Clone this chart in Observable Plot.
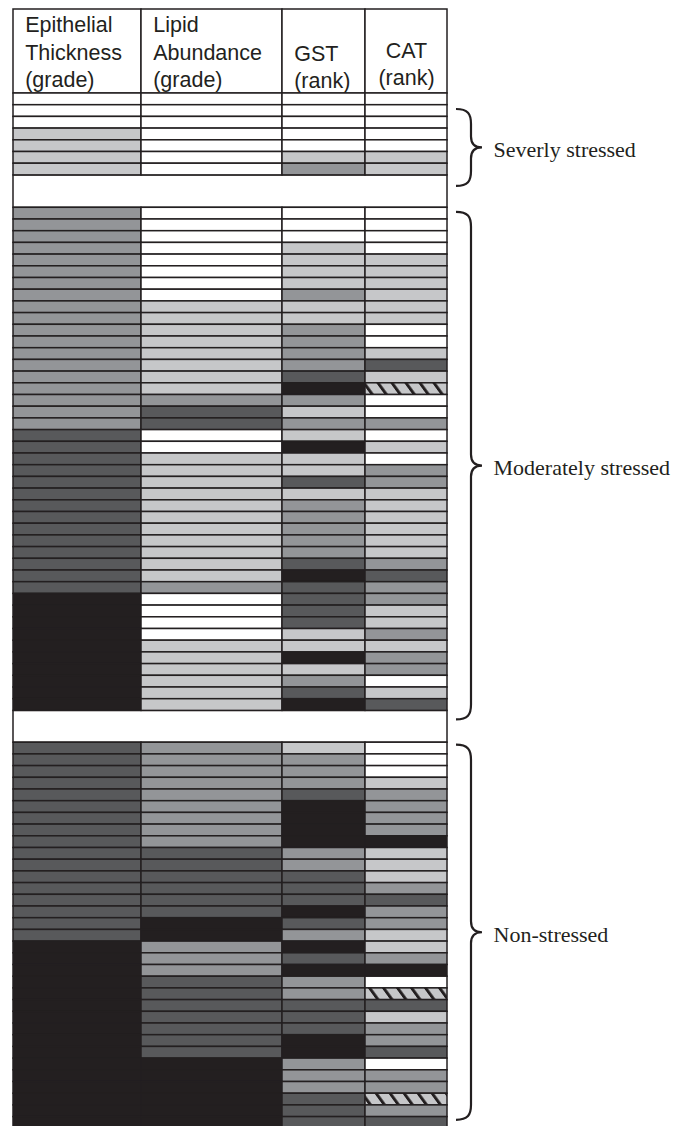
<!DOCTYPE html>
<html>
<head>
<meta charset="utf-8">
<script src="https://cdn.jsdelivr.net/npm/d3@7"></script>
<script src="https://cdn.jsdelivr.net/npm/@observablehq/plot@0.6"></script>
<style>
html, body { margin: 0; padding: 0; background: #fff; overflow: hidden; }
</style>
</head>
<body>
<div id="chart"></div>
<script>
// ---------- DATA ----------
const columns = ["Epithelial Thickness (grade)", "Lipid Abundance (grade)", "GST (rank)", "CAT (rank)"];
const headerLines = [
  ["Epithelial", "Thickness", "(grade)"],
  ["Lipid", "Abundance", "(grade)"],
  ["GST", "(rank)"],
  ["CAT", "(rank)"]
];
const groupNames = ["Severly stressed", "Moderately stressed", "Non-stressed"];
// level codes: 0 white, 1 light grey, 2 mid grey, 3 dark grey, 4 black, 5 hatched
const levelCodes = [0, 1, 2, 3, 4, 5];

const severe = [
  [0,0,0,0],[0,0,0,0],[0,0,0,0],[1,0,0,0],[1,0,0,0],[1,0,1,1],[1,0,2,1]
];
const moderate = [
  [2,0,0,0],[2,0,0,0],[2,0,0,0],[2,0,1,0],[2,0,1,1],[2,0,1,1],[2,0,1,1],[2,0,2,1],
  [2,1,1,1],[2,1,1,1],[2,1,2,0],[2,1,2,0],[2,1,2,1],[2,1,2,3],[2,1,3,1],[2,1,4,5],
  [2,2,2,0],[2,3,1,0],[2,3,2,2],
  [3,0,1,0],[3,0,4,1],[3,1,1,0],[3,1,1,2],[3,1,3,2],[3,1,1,1],[3,1,2,1],[3,1,2,1],
  [3,1,2,1],[3,1,2,1],[3,1,2,1],[3,1,3,2],[3,1,4,3],[3,2,3,2],
  [4,0,3,2],[4,0,3,1],[4,0,3,1],[4,0,1,2],[4,1,1,1],[4,1,4,2],[4,1,1,2],[4,1,2,0],
  [4,1,3,1],[4,1,4,3]
];
const nonStressed = [
  [3,2,1,0],[3,2,2,0],[3,2,2,0],[3,2,2,1],[3,2,3,2],[3,2,4,2],[3,2,4,2],[3,2,4,2],
  [3,2,4,4],[3,3,2,1],[3,3,2,1],[3,3,3,1],[3,3,3,2],[3,3,3,3],[3,3,4,2],[3,4,3,2],
  [3,4,2,1],[4,2,4,1],[4,2,3,2],[4,2,4,4],[4,3,2,0],[4,3,2,5],[4,3,3,3],[4,3,3,1],
  [4,3,3,2],[4,3,4,2],[4,3,4,3],[4,4,2,0],[4,4,2,2],[4,4,2,2],[4,4,3,5],[4,4,3,2],
  [4,4,3,3]
];

// ---------- LAYOUT / STYLE ----------
const W = 689, H = 1126;
const ink = "#231f20";
const levelFills = ["#ffffff", "#c6c7c9", "#939598", "#58595b", "#231f20", "url(#hatch)"];
const colWidths = [128, 141, 83, 82];
const tableLeft = 13, tableTop = 9;
const headerH = 84, rowH = 11.7, gapH = [32.4, 31.8];
const colX = [0];
colWidths.forEach(w => colX.push(colX[colX.length - 1] + w));
const tableW = colX[colX.length - 1];
// brace geometry (relative to table right edge) and per-group vertical offsets
const braceX = {hook: tableW + 9, spine: tableW + 24, tip: tableW + 35, label: tableW + 46};
const braceOffsets = [[16, 11], [4.5, 9], [2.5, -8.5]];
const headerBaseline = [22, 50, 77.3];
const headerDy = [0, 0, 1.5, -2];
const headerAlign = ["start", "start", "start", "middle"];

// ---------- BUILD TABLES ----------
const groups = [severe, moderate, nonStressed];
let cursor = headerH;
const cells = [], gapRects = [], spans = [];
groups.forEach((rows, g) => {
  if (g > 0) {
    gapRects.push({x1: 0, x2: tableW, y1: cursor, y2: cursor + gapH[g - 1]});
    cursor += gapH[g - 1];
  }
  const start = cursor;
  rows.forEach((row, i) => {
    row.forEach((level, c) => {
      cells.push({column: columns[c], x1: colX[c], x2: colX[c + 1],
        y1: start + i * rowH, y2: start + (i + 1) * rowH, level});
    });
  });
  cursor += rows.length * rowH;
  const top = start + braceOffsets[g][0], bottom = cursor + braceOffsets[g][1];
  spans.push({name: groupNames[g], start, end: cursor, top, bottom, tip: (top + bottom) / 2});
});
const tableH = cursor;

const headerCells = columns.map((name, c) => ({x1: colX[c], x2: colX[c + 1], y1: 0, y2: headerH}));
const headerTexts = [];
headerLines.forEach((lines, c) => {
  const offset = 3 - lines.length;
  lines.forEach((t, k) => {
    headerTexts.push({
      text: t,
      align: headerAlign[c],
      x: headerAlign[c] === "middle" ? (colX[c] + colX[c + 1]) / 2 : colX[c] + 11.7,
      y: headerBaseline[k + offset] + headerDy[c]
    });
  });
});

const fsHead = 21.5;

function braceMark(index, scales) {
  const g = d3.create("svg:g");
  for (const s of spans) {
    const x0 = scales.x(braceX.hook), x1 = scales.x(braceX.spine), x2 = scales.x(braceX.tip);
    const yT = scales.y(s.top), yB = scales.y(s.bottom), yM = scales.y(s.tip);
    const r = 15, rt = 11;
    const p = d3.path();
    p.moveTo(x0, yT);
    p.bezierCurveTo(x1 - 3, yT, x1, yT + 5, x1, yT + r);
    p.lineTo(x1, yM - rt);
    p.bezierCurveTo(x1, yM - 4, x1 + 3, yM, x2, yM);
    p.bezierCurveTo(x1 + 3, yM, x1, yM + 4, x1, yM + rt);
    p.lineTo(x1, yB - r);
    p.bezierCurveTo(x1, yB - 5, x1 - 3, yB, x0, yB);
    g.append("path").attr("d", p.toString())
      .attr("fill", "none").attr("stroke", ink).attr("stroke-width", 2.2);
  }
  return g.node();
}

const chart = Plot.plot({
  width: W,
  height: H,
  margin: 0,
  style: {background: "white"},
  x: {type: "linear", domain: [0, tableW], range: [tableLeft, tableLeft + tableW], axis: null},
  y: {type: "linear", domain: [0, tableH], range: [tableTop, tableTop + tableH], axis: null},
  color: {type: "ordinal", domain: levelCodes, range: levelFills},
  marks: [
    Plot.rect(headerCells, {x1: "x1", x2: "x2", y1: "y1", y2: "y2", fill: "white", stroke: ink, strokeWidth: 1.5}),
    Plot.rect(gapRects, {x1: "x1", x2: "x2", y1: "y1", y2: "y2", fill: "white", stroke: ink, strokeWidth: 1.5}),
    Plot.rect(cells, {x1: "x1", x2: "x2", y1: "y1", y2: "y2", fill: "level", stroke: ink, strokeWidth: 1.5}),
    Plot.text(headerTexts.filter(d => d.align === "start"), {
      x: "x", y: d => d.y - 0.71 * fsHead, text: "text", textAnchor: "start", lineAnchor: "top",
      fontFamily: "Liberation Sans, Arial, sans-serif", fontSize: fsHead, fill: ink
    }),
    Plot.text(headerTexts.filter(d => d.align === "middle"), {
      x: "x", y: d => d.y - 0.71 * fsHead, text: "text", textAnchor: "middle", lineAnchor: "top",
      fontFamily: "Liberation Sans, Arial, sans-serif", fontSize: fsHead, fill: ink
    }),
    braceMark,
    Plot.text(spans, {
      x: () => braceX.label, y: "tip", text: "name", textAnchor: "start", lineAnchor: "middle", dy: 2,
      fontFamily: "Liberation Serif, Times New Roman, serif", fontSize: 22, fill: ink
    })
  ]
});

// hatch pattern for the "hatched" cells
const defs = d3.select(chart).insert("defs", ":first-child");
const pat = defs.append("pattern").attr("id", "hatch")
  .attr("patternUnits", "userSpaceOnUse").attr("width", 14).attr("height", 14)
  .attr("patternTransform", "skewX(36)");
pat.append("rect").attr("width", 14).attr("height", 14).attr("fill", "#c6c7c9");
pat.append("rect").attr("x", 0).attr("width", 3.6).attr("height", 14).attr("fill", ink);

document.getElementById("chart").appendChild(chart);
</script>
</body>
</html>
